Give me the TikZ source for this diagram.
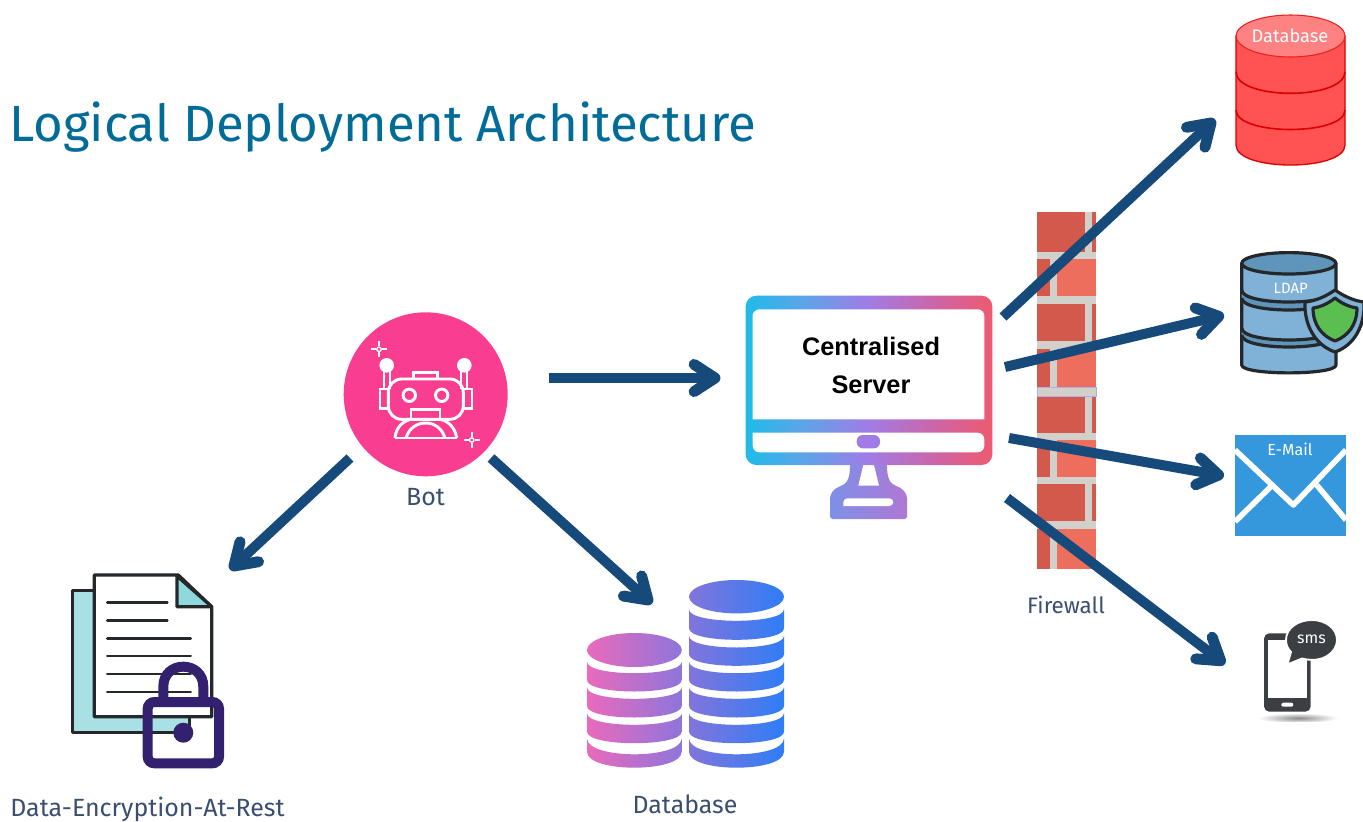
\documentclass[tikz,border=0pt]{standalone}
\usepackage{fontspec}
\setmainfont{Fira Sans}
\newfontfamily\boldf{Liberation Sans}[BoldFont={Liberation Sans Bold}]
\usetikzlibrary{arrows.meta,calc,shapes.geometric}
\definecolor{arrowblue}{HTML}{154A7B}
\definecolor{titleblue}{HTML}{006C97}
\definecolor{labelblue}{HTML}{3A4E70}
\definecolor{botpink}{HTML}{F93E92}
\definecolor{mortar}{HTML}{D1D0CA}
\definecolor{brickdark}{HTML}{D2594B}
\definecolor{bricklight}{HTML}{EE6E5D}
\definecolor{redbody}{HTML}{FF5252}
\definecolor{redtop}{HTML}{FF8282}
\definecolor{rededge}{HTML}{DD0000}
\definecolor{ldapbody}{HTML}{80B1D7}
\definecolor{ldaptop}{HTML}{5F94BB}
\definecolor{ldapgreen}{HTML}{5ABF50}
\definecolor{inkdark}{HTML}{25282A}
\definecolor{mailblue}{HTML}{3598DC}
\definecolor{phonegray}{HTML}{3B3E42}
\definecolor{paperteal}{HTML}{A8E0E4}
\definecolor{foldteal}{HTML}{8FD8DC}
\definecolor{lockpurple}{HTML}{33206E}
\definecolor{mgA}{HTML}{1EBBE8}
\definecolor{mgB}{HTML}{5FA3E8}
\definecolor{mgC}{HTML}{A07CE6}
\definecolor{mgD}{HTML}{CB66A8}
\definecolor{mgE}{HTML}{EE5A70}
\definecolor{standA}{HTML}{7E90E8}
\definecolor{standB}{HTML}{AE78D4}
\definecolor{HTMLpinkA}{HTML}{EA6ABC}
\definecolor{HTMLpinkB}{HTML}{8E75DB}
\definecolor{HTMLblueA}{HTML}{8175DC}
\definecolor{HTMLblueB}{HTML}{2F7DF6}
\pgfdeclarehorizontalshading{monitorgrad}{100bp}{color(0bp)=(mgA);color(25bp)=(mgA);color(37bp)=(mgB);color(50bp)=(mgC);color(63bp)=(mgD);color(75bp)=(mgE);color(100bp)=(mgE)}
\tikzset{
  conn/.style={draw=arrowblue,line width=7.5pt},
  connhead/.style={draw=arrowblue,line width=8.2pt,line cap=round,line join=round},
  lbl/.style={text=labelblue,inner sep=0pt,font=\fontsize{18.7}{22}\selectfont},
  robot/.style={draw=white,line width=2.2pt},
  pinkgrad/.style={left color=HTMLpinkA,right color=HTMLpinkB},
  bluegrad/.style={left color=HTMLblueA,right color=HTMLblueB},
  ldapline/.style={draw=inkdark,line width=2.4pt,line join=round},
  invisible/.style={inner sep=0pt,minimum width=#1},
}
\newcommand{\sparklemark}[2]{%
  \draw[white,line width=1.6pt] (#1-8,#2)--(#1-3,#2) (#1+3,#2)--(#1+8,#2) (#1,#2-8)--(#1,#2-3) (#1,#2+3)--(#1,#2+8);
  \draw[white,line width=1pt] (#1,#2) circle[radius=2.2];}
\newcommand{\bricksA}[2]{%
  \fill[brickdark] (1037,#1) rectangle (1085,#2);
  \fill[brickdark] (1092,#1) rectangle (1096,#2);}
\newcommand{\bricksB}[2]{%
  \fill[brickdark] (1037,#1) rectangle (1050,#2);
  \fill[bricklight] (1057,#1) rectangle (1096,#2);}
% layer: left, right, top at side, bottom at side, depth, style
\newcommand{\stacklayer}[6]{%
  \path[#6] (#1,#3) .. controls (#1,#3+1.333*#5) and (#2,#3+1.333*#5) .. (#2,#3)
    -- (#2,#4) .. controls (#2,#4+1.333*#5) and (#1,#4+1.333*#5) .. (#1,#4) -- cycle;}
% arrow with a thick rounded chevron head
\newcommand{\connect}[2]{%
  \coordinate (cs) at #1; \coordinate (ce) at #2;
  \draw[conn] (cs) -- (ce);
  \draw[connhead] ($(ce)!18.7pt!33:(cs)$) -- (ce) -- ($(ce)!18.7pt!-33:(cs)$);}
\begin{document}
\begin{tikzpicture}[x=.75pt,y=-.75pt]
\useasboundingbox (0,0) rectangle (1363,821);
\fill[white] (0,0) rectangle (1363,821);

% title
\node[anchor=west,inner sep=0pt,text=titleblue,font=\fontsize{38.2}{44}\selectfont] (title) at (9,127) {Logical Deployment Architecture};

% wall
\fill[mortar] (1037,212) rectangle (1096,569);
\bricksA{212}{252}\bricksB{259}{296}\bricksA{304}{341}\bricksB{349}{387}
\bricksA{396}{433}\bricksB{440}{477}\bricksA{484}{521}\bricksB{529}{569}
\draw[draw=HTMLblueA!60,line width=.4pt] (1037,387) rectangle (1096,396);
\node[invisible=44pt,minimum height=268pt] (wall) at (1066.5,390.5) {};
\node[lbl,font=\fontsize{16.8}{20}\selectfont] (firewall) at (1066,605) {Firewall};

% bot
\node[circle,fill=botpink,minimum size=123pt,inner sep=0pt] (bot) at (425.7,394.3) {};
\draw[robot,rounded corners=10pt] (388.3,379) rectangle (463.3,419.3);
\draw[robot] (413.3,379) -- (413.3,372.3) -- (437.3,372.3) -- (437.3,379);
\draw[robot] (409.3,395.3) circle[radius=6.2] (441.7,395.3) circle[radius=6.2];
\draw[robot] (388.3,389) -- (380,389) -- (380,408.3) -- (388.3,408.3);
\draw[robot] (463.3,389) -- (472,389) -- (472,408.3) -- (463.3,408.3);
\fill[white] (386.7,365.3) circle[radius=7.3] (464.3,365.3) circle[radius=7.3];
\draw[white,line width=1.5pt] (383.5,370)--(383.5,389) (389.5,370)--(389.5,389) (461.3,370)--(461.3,389) (467.3,370)--(467.3,389);
\draw[robot] (411,419.3) -- (411,409.3) -- (440,409.3) -- (440,419.3);
\draw[robot,line join=round] (395,438) .. controls (396,427) and (403,421) .. (411,419.3)
   (440,419.3) .. controls (448,421) and (455,427) .. (456.7,438);
\draw[robot] (395,438) -- (456.7,438);
\draw[robot] (406,438) .. controls (409,428) and (417,423) .. (425.7,423) .. controls (434,423) and (442,428) .. (445,438);
\sparklemark{379}{349.3}
\sparklemark{471.7}{440}
\node[lbl] (botlabel) at (425.5,497) {Bot};

% monitor
\shade[left color=standA,right color=standB,rounded corners=3pt]
  (850,462) .. controls (850,475) and (848,482) .. (841,486) .. controls (834,489) and (830,494) .. (830,502)
  -- (830,513) .. controls (830,517) and (832,519) .. (836,519) -- (901,519) .. controls (905,519) and (907,517) .. (907,513)
  -- (907,502) .. controls (907,494) and (903,489) .. (896,486) .. controls (889,482) and (887,475) .. (887,462) -- cycle;
\fill[white] (863.3,465) -- (874,465) -- (879,485.7) -- (858.3,485.7) -- cycle;
\fill[white,rounded corners=3pt] (843.3,506) -- (843.3,498.3) -- (893.3,498.3) -- (893.3,506) [sharp corners] -- cycle;
\shade[shading=monitorgrad,rounded corners=8pt] (745.7,295.7) rectangle (992.3,465);
\fill[white,rounded corners=5pt] (752.7,320) [sharp corners] -- (752.7,419.3) -- (984.3,419.3) -- (984.3,320) [rounded corners=5pt] -- (984.3,309.3) -- (752.7,309.3) -- cycle;
\fill[white,rounded corners=5pt] (752.7,432.7) -- (752.7,452.3) -- (984.3,452.3) -- (984.3,432.7) [sharp corners] -- cycle;
\fill[mgC,rounded corners=4.5pt] (856.7,435) rectangle (880,448.3);
\node[align=center,inner sep=0pt,text=black,font=\boldf\bfseries\fontsize{19}{28.5}\selectfont] (server) at (871,365.5) {Centralised\\Server};

% red database
\path[fill=redbody,draw=rededge,line width=1pt] (1236,36) -- (1236,145) .. controls (1236,171.7) and (1345,171.7) .. (1345,145) -- (1345,36) -- cycle;
\draw[rededge,line width=1.2pt] (1236,71.7) .. controls (1236,100.5) and (1345,100.5) .. (1345,71.7)
   (1236,110) .. controls (1236,136) and (1345,136) .. (1345,110);
\path[fill=redtop,draw=rededge!60!redbody,line width=.8pt] (1290.5,36) ellipse[x radius=54.5,y radius=21];
\node[inner sep=0pt,text=white,font=\fontsize{13.7}{16}\selectfont] (reddb) at (1290,36) {Database};

% LDAP
\path[ldapline,fill=ldapbody] (1241.7,263.3) -- (1241.7,365) .. controls (1241.7,375.5) and (1336,375.5) .. (1336,365) -- (1336,263.3) -- cycle;
\path[ldapline,fill=ldaptop] (1288.8,263.3) ellipse[x radius=47.1,y radius=10.7];
\path[fill=ldaptop] (1241.7,290) .. controls (1241.7,306) and (1336,306) .. (1336,290) -- (1336,298) .. controls (1336,314) and (1241.7,314) .. (1241.7,298) -- cycle;
\path[fill=ldaptop] (1241.7,328) .. controls (1241.7,344) and (1336,344) .. (1336,328) -- (1336,335) .. controls (1336,351) and (1241.7,351) .. (1241.7,335) -- cycle;
\draw[ldapline] (1241.7,290) .. controls (1241.7,306) and (1336,306) .. (1336,290)
  (1241.7,298) .. controls (1241.7,314) and (1336,314) .. (1336,298)
  (1241.7,328) .. controls (1241.7,344) and (1336,344) .. (1336,328)
  (1241.7,335) .. controls (1241.7,351) and (1336,351) .. (1336,335);
\path[ldapline,fill=ldapbody] (1335,290) .. controls (1325,297) and (1315,301) .. (1305,302)
  .. controls (1304,325) and (1315,345) .. (1335,352) .. controls (1355,345) and (1365,325) .. (1364,302) .. controls (1355,301) and (1345,297) .. (1335,290) -- cycle;
\path[ldapline,fill=ldapgreen] (1335,298) .. controls (1329,303) and (1321,307) .. (1313,308)
  .. controls (1313,325) and (1322,336) .. (1335,341) .. controls (1348,336) and (1357,325) .. (1357,308) .. controls (1349,307) and (1341,303) .. (1335,298) -- cycle;
\node[inner sep=0pt,text=white,font=\fontsize{11.2}{13}\selectfont] (ldap) at (1290.7,288) {LDAP};

% email
\fill[mailblue] (1235,435) rectangle (1346,536);
\draw[white,line width=4.2pt,line join=round] (1235,450) -- (1293.3,505) -- (1346,450);
\draw[white,line width=4.2pt] (1235,521.7) -- (1270.7,486.7) (1346,520) -- (1316.7,485);
\node[inner sep=0pt,text=white,font=\fontsize{12}{14}\selectfont] (email) at (1290,449.5) {E-Mail};

% sms
\shade[inner color=black!45,outer color=white] (1298,718) ellipse[x radius=40,y radius=5];
\fill[white] (1255,721.7) rectangle (1345,730);
\fill[phonegray,rounded corners=4pt] (1264,633.3) rectangle (1310.7,711.7);
\fill[white] (1267.7,640) rectangle (1307.3,697.7);
\fill[white,rounded corners=1.5pt] (1281.3,702.7) rectangle (1293.3,706.7);
\path[fill=phonegray,draw=white,line width=1.4pt] (1291,652) -- (1287.3,664.5) -- (1302,658.5) .. controls (1323,664) and (1337,652) .. (1337,640)
  .. controls (1337,628) and (1325,620) .. (1312,620) .. controls (1298,620) and (1286,628) .. (1286,640) .. controls (1286,645) and (1288,649) .. (1291,652) -- cycle;
\node[inner sep=0pt,text=white,font=\fontsize{12}{14}\selectfont] (sms) at (1311.5,639.5) {sms};

% document with lock
\path[fill=paperteal,draw=inkdark,line width=2.4pt,line join=round] (72.7,590.7) rectangle (189.3,732.7);
\path[fill=white,draw=inkdark,line width=2.4pt,line join=round] (94.3,575) -- (178.3,575) -- (211.7,606.7) -- (211.7,716.7) -- (94.3,716.7) -- cycle;
\path[fill=foldteal,draw=inkdark,line width=2.4pt,line join=round] (177,576) -- (211.7,606.7) -- (177,606.7) -- cycle;
\draw[inkdark,line width=2.1pt,line cap=round] (107.3,602.3)--(167.3,602.3) (107.3,620.3)--(167.3,620.3)
  (107.3,638.3)--(190.7,638.3) (107.3,656)--(190.7,656) (107.3,674)--(190.7,674) (107.3,692)--(190.7,692);
\draw[lockpurple,line width=7.5pt,rounded corners=5pt] (147.7,702) rectangle (219,763.3);
\draw[lockpurple,line width=7.5pt] (163.3,702) -- (163.3,686.7) .. controls (163.3,660) and (203.3,660) .. (203.3,686.7) -- (203.3,702);
\fill[lockpurple] (183.3,732.7) circle[radius=10];
\node[invisible=112pt,minimum height=145pt] (enc) at (148,672) {};
\node[lbl] (enclabel) at (147.5,809) {Data-Encryption-At-Rest};

% database stacks
\path[bluegrad,shade] (736.5,596.7) ellipse[x radius=47.5,y radius=16.7];
\stacklayer{689}{784}{609.3}{628.3}{11.5}{shade,bluegrad}
\stacklayer{689}{784}{636}{654.3}{11.5}{shade,bluegrad}
\stacklayer{689}{784}{661.7}{680}{11.5}{shade,bluegrad}
\stacklayer{689}{784}{687.3}{706}{11.5}{shade,bluegrad}
\stacklayer{689}{784}{713.3}{731.7}{11.5}{shade,bluegrad}
\stacklayer{689}{784}{738.3}{751.7}{16}{shade,bluegrad}
\path[pinkgrad,shade] (634.4,650) ellipse[x radius=47.4,y radius=17];
\stacklayer{587}{681.7}{661.7}{680}{11.5}{shade,pinkgrad}
\stacklayer{587}{681.7}{687.3}{706}{11.5}{shade,pinkgrad}
\stacklayer{587}{681.7}{713.3}{731.7}{11.5}{shade,pinkgrad}
\stacklayer{587}{681.7}{738.3}{751.7}{16}{shade,pinkgrad}
\node[invisible=148pt,minimum height=142pt] (dbs) at (685.5,674.5) {};
\node[lbl] (dblabel) at (685,804) {Database};

% connectors
\connect{($(bot.center)+(123.3,-16.3)$)}{($(server.center)+(-156,12.5)$)}
\connect{($(bot.center)+(-75.7,63.7)$)}{($(enc.center)+(86,-106)$)}
\connect{($(bot.center)+(65.3,63.7)$)}{($(dbs.center)+(-37.5,-74.5)$)}
\connect{($(server.center)+(132,-48.5)$)}{($(reddb.center)+(-79,87)$)}
\connect{($(server.center)+(134,1.5)$)}{($(ldap.center)+(-72,28.3)$)}
\connect{($(server.center)+(138,72.5)$)}{($(email.center)+(-71.4,25.5)$)}
\connect{($(server.center)+(136,132.5)$)}{($(sms.center)+(-90.9,21.2)$)}
\end{tikzpicture}
\end{document}
